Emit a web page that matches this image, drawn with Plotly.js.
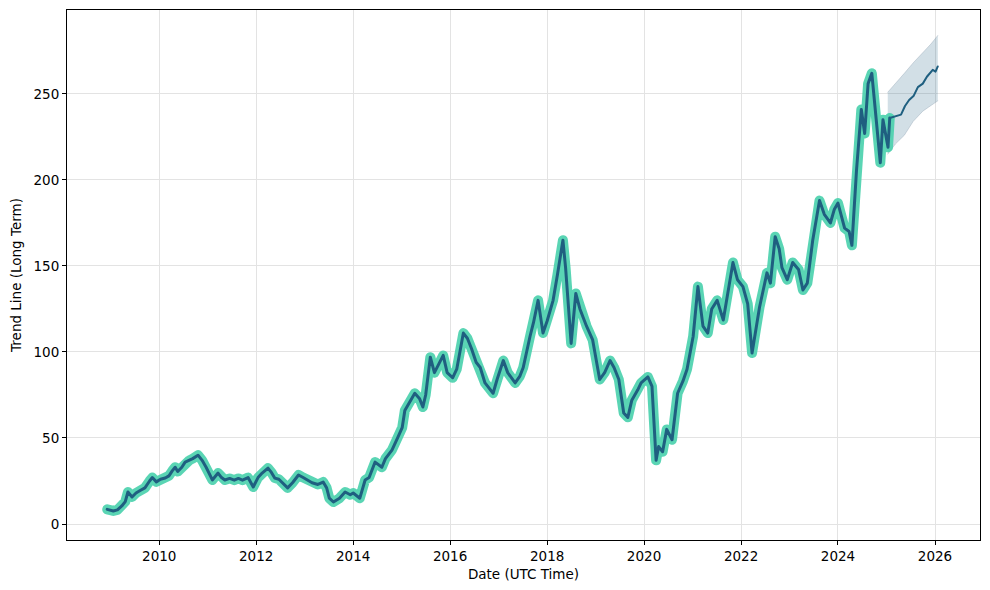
<!DOCTYPE html>
<html>
<head>
<meta charset="utf-8">
<script src="https://cdn.plot.ly/plotly-3.0.1.min.js"></script>
<style>html,body{margin:0;padding:0;background:#fff;}#chart{width:990px;height:590px;}
.js-line{stroke-linejoin:round !important;stroke-linecap:round !important;}</style>
</head>
<body>
<div id="chart"></div>
<script>
// Historical trend line
const histDates = [
 "2008-12-05","2008-12-25","2009-01-20","2009-02-20","2009-03-25","2009-04-20","2009-05-10","2009-06-10","2009-07-10","2009-08-10",
 "2009-09-15","2009-10-20","2009-11-10","2009-12-10","2010-01-10","2010-02-15","2010-03-15","2010-04-10","2010-05-01","2010-05-20",
 "2010-06-20","2010-07-15","2010-08-15","2010-09-10","2010-10-20","2010-11-20","2010-12-20","2011-01-20","2011-02-05","2011-03-20",
 "2011-04-15","2011-05-10","2011-06-15","2011-07-20","2011-08-20","2011-09-20","2011-11-01","2011-12-10","2012-01-15","2012-02-15",
 "2012-03-30","2012-04-25","2012-05-20","2012-06-20","2012-07-20","2012-08-25","2012-10-01","2012-11-15","2012-12-20","2013-02-25",
 "2013-04-10","2013-05-20","2013-06-15","2013-07-05","2013-08-05","2013-09-20","2013-11-01","2013-12-10","2014-01-01","2014-02-20",
 "2014-04-01","2014-05-01","2014-06-15","2014-08-05","2014-09-01","2014-10-20","2014-12-05","2015-01-05","2015-01-25","2015-03-10",
 "2015-04-10","2015-05-15","2015-06-10","2015-07-01","2015-08-05","2015-09-05","2015-09-25","2015-11-10","2015-12-10","2016-01-20",
 "2016-02-20","2016-04-10","2016-05-10","2016-06-10","2016-07-15","2016-08-15","2016-09-20","2016-11-20","2016-12-20","2017-02-05",
 "2017-03-10","2017-05-05","2017-06-10","2017-07-05","2017-08-25","2017-09-20","2017-10-25","2017-12-01","2018-01-01","2018-02-15",
 "2018-03-20","2018-04-30","2018-05-20","2018-06-10","2018-07-01","2018-08-05","2018-09-05","2018-10-25","2018-12-10","2019-02-01",
 "2019-03-10","2019-04-20","2019-05-20","2019-06-25","2019-08-01","2019-09-01","2019-10-01","2019-11-15","2019-12-10","2020-01-30",
 "2020-03-01","2020-04-01","2020-04-20","2020-05-20","2020-06-20","2020-07-30","2020-09-10","2020-10-20","2020-11-20","2021-01-05",
 "2021-02-10","2021-03-20","2021-04-25","2021-05-25","2021-07-05","2021-08-20","2021-09-25","2021-11-01","2021-12-05","2022-01-15",
 "2022-02-20","2022-03-25","2022-05-20","2022-07-15","2022-08-10","2022-09-15","2022-10-15","2022-11-05","2022-12-15","2023-01-25",
 "2023-03-10","2023-04-12","2023-05-15","2023-06-25","2023-08-15","2023-09-20","2023-11-05","2023-12-05","2024-01-01","2024-02-20",
 "2024-03-25","2024-04-15","2024-05-20","2024-06-25","2024-07-20","2024-08-15","2024-09-12","2024-10-05","2024-11-15","2024-12-05",
 "2025-01-12","2025-01-25"
];
const histValues = [
 8.5,8,7.6,8.2,10.5,13,18.6,15.7,18,19.5,
 21,25,27,24.5,26,26.7,28,31,33,30.5,
 33,36,37,38,40,37,33,28,25.6,29.6,
 27,25.6,26.5,25.5,26.5,25.5,27,21.5,27,29.6,
 32.5,30,26.7,26,23.5,21,24,28.5,27,24,
 23,24.4,21,15,12.8,15,18.6,17,18,15,
 25.6,27,36,33,38,43,50.6,56,66,72,
 76,73,68,75,97,88,91,98,88,85,
 90,111,108,102,94,91,82,76,84,95,
 88,82,86,91,109,117,130,111,118,130,
 145,165,149,128,105,134,125,115,107,84,
 88,95,91,84,64.5,62,72,78,82,85.5,
 80,37,45,42,55,49,76,83,90,109,
 138,115,111,125,130,118.6,135,152,142,138,
 128,99.4,126,146,140,167,160,149,142,152,
 148,136,140,165,188,180,175,183,186.6,172,
 170,162,206,241,227,256,262,242,210,235,
 219,236
];

// Forecast
const fcDates = ["2025-01-25","2025-03-15","2025-04-20","2025-05-20","2025-06-20","2025-07-25","2025-08-25","2025-10-01","2025-11-01","2025-12-15","2026-01-05","2026-01-22"];
const fcValues = [236,237,238,243,246.5,249,254,256,260,264,263,266];
const bandDates = ["2025-01-10","2025-03-10","2025-05-15","2025-07-20","2025-10-01","2025-12-01","2026-01-22"];
const bandUpper = [251,256,262,268,274,279,284];
const bandLower = [215,221,226,234,240,243,246];

const yTicks = [0,50,100,150,200,250];

const traces = [
 {x: bandDates, y: bandUpper, mode:'lines', line:{color:'rgba(120,140,160,0.5)', width:0.6}, hoverinfo:'skip', showlegend:false},
 {x: bandDates, y: bandLower, mode:'lines', fill:'tonexty', fillcolor:'rgba(31,95,128,0.2)', line:{color:'rgba(120,140,160,0.5)', width:0.6}, hoverinfo:'skip', showlegend:false},
 {x: histDates, y: histValues, mode:'lines', line:{color:'rgba(72,208,172,0.9)', width:10}, showlegend:false},
 {x: histDates, y: histValues, mode:'lines', line:{color:'#1f5f80', width:3}, showlegend:false},
 {x: fcDates, y: fcValues, mode:'lines', line:{color:'#1f5f80', width:2}, showlegend:false}
];

const fnt = {family:'DejaVu Sans, sans-serif', size:13.5, color:'#000'};
const layout = {
 width:990, height:590,
 margin:{l:67, r:10, t:10, b:50},
 paper_bgcolor:'#fff', plot_bgcolor:'#fff',
 font: fnt,
 showlegend:false,
 xaxis:{
  type:'date', range:['2008-02-06','2026-12-06'],
  tick0:'2010-01-01', dtick:'M24', tickformat:'%Y',
  showgrid:true, gridcolor:'#e3e3e3', gridwidth:1,
  showline:true, linecolor:'#000', linewidth:1, mirror:true,
  ticks:'outside', ticklen:4, tickcolor:'#000',
  zeroline:false, tickfont:fnt,
  title:{text:'Date (UTC Time)', font:fnt, standoff:6}
 },
 yaxis:{
  range:[-9.3, 298.8], tickvals:yTicks,
  showgrid:true, gridcolor:'#e3e3e3', gridwidth:1,
  showline:true, linecolor:'#000', linewidth:1, mirror:true,
  ticks:'outside', ticklen:4, tickcolor:'#000',
  zeroline:false, tickfont:fnt,
  title:{text:'Trend Line (Long Term)', font:fnt, standoff:8}
 }
};
Plotly.newPlot('chart', traces, layout, {staticPlot:true, displayModeBar:false});
</script>
</body>
</html>
